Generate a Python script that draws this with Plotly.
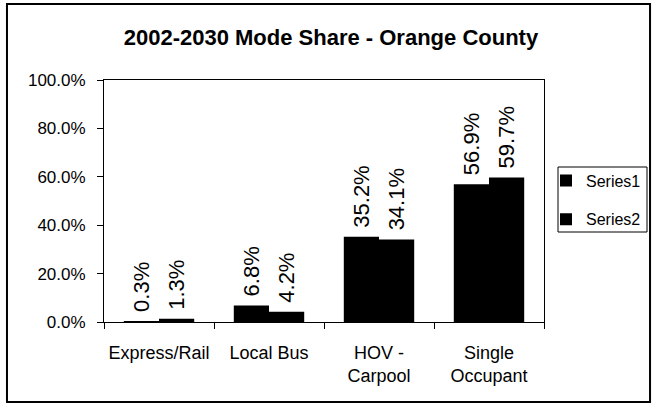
import plotly.graph_objects as go

categories = ["Express/Rail", "Local Bus", "HOV -<br>Carpool", "Single<br>Occupant"]
series1 = [0.3, 6.8, 35.2, 56.9]
series2 = [1.3, 4.2, 34.1, 59.7]
series_names = ["Series1", "Series2"]
y_ticks = [0, 20, 40, 60, 80, 100]
y_tick_labels = ["0.0%", "20.0%", "40.0%", "60.0%", "80.0%", "100.0%"]

FONT = "Liberation Sans, Arial, Helvetica, sans-serif"

fig = go.Figure()
for name, vals in zip(series_names, [series1, series2]):
    fig.add_trace(go.Bar(
        x=categories, y=vals, name=name, legendgroup=name,
        marker=dict(color="#000000", line=dict(width=0)),
        text=[f"\u00a0{v:.1f}%" for v in vals],
        textposition="outside", textangle=-90,
        textfont=dict(family=FONT, size=22, color="#000000"),
        constraintext="none", cliponaxis=False,
    ))

fig.update_layout(
    width=654, height=413,
    margin=dict(l=104, r=110, t=80, b=91, autoexpand=False),
    paper_bgcolor="white", plot_bgcolor="white",
    font=dict(family=FONT, color="#000000"),
    barmode="group", bargap=0.36, bargroupgap=0,
    title=dict(text="<b>2002-2030 Mode Share - Orange County</b>",
               font=dict(family=FONT, size=22, color="#000000"),
               x=0.506, xref="container", xanchor="center",
               y=0.91, yref="container", yanchor="middle"),
    showlegend=True,
    legend=dict(x=(546 - 104) / 440, y=0.655, xanchor="left", yanchor="top",
                borderwidth=0, bgcolor="rgba(0,0,0,0)",
                font=dict(family=FONT, size=16, color="#000000"),
                traceorder="grouped", tracegroupgap=15,
                itemwidth=30),
    xaxis=dict(showline=True, linecolor="#000000", linewidth=1, mirror=True,
               ticks="outside", tickson="boundaries", ticklen=6, tickcolor="#000000",
               tickangle=0, automargin=False,
               tickfont=dict(family=FONT, size=18, color="#000000"),
               ticklabelstandoff=14, showgrid=False, zeroline=False),
    yaxis=dict(range=[0, 100], tickvals=y_ticks, ticktext=y_tick_labels,
               showline=True, linecolor="#000000", linewidth=1, mirror=True,
               ticks="outside", ticklen=6, tickcolor="#000000", automargin=False,
               tickfont=dict(family=FONT, size=17, color="#000000"),
               ticklabelstandoff=8, showgrid=False, zeroline=False),
    shapes=[
        dict(type="rect", xref="paper", yref="paper",
             x0=-0.2205, x1=1.241, y0=-0.3306, y1=1.314,
             line=dict(color="#000000", width=2), fillcolor="rgba(0,0,0,0)",
             layer="below"),
        dict(type="rect", xref="paper", yref="paper",
             x0=(558 - 104) / 440, x1=(647 - 104) / 440,
             y0=(322 - 232) / 242, y1=(322 - 167) / 242,
             line=dict(color="#000000", width=1), fillcolor="rgba(0,0,0,0)",
             layer="above"),
    ],
)

fig.write_html("out.html", config={"displayModeBar": False},
               post_script="document.body.style.margin='0';")
